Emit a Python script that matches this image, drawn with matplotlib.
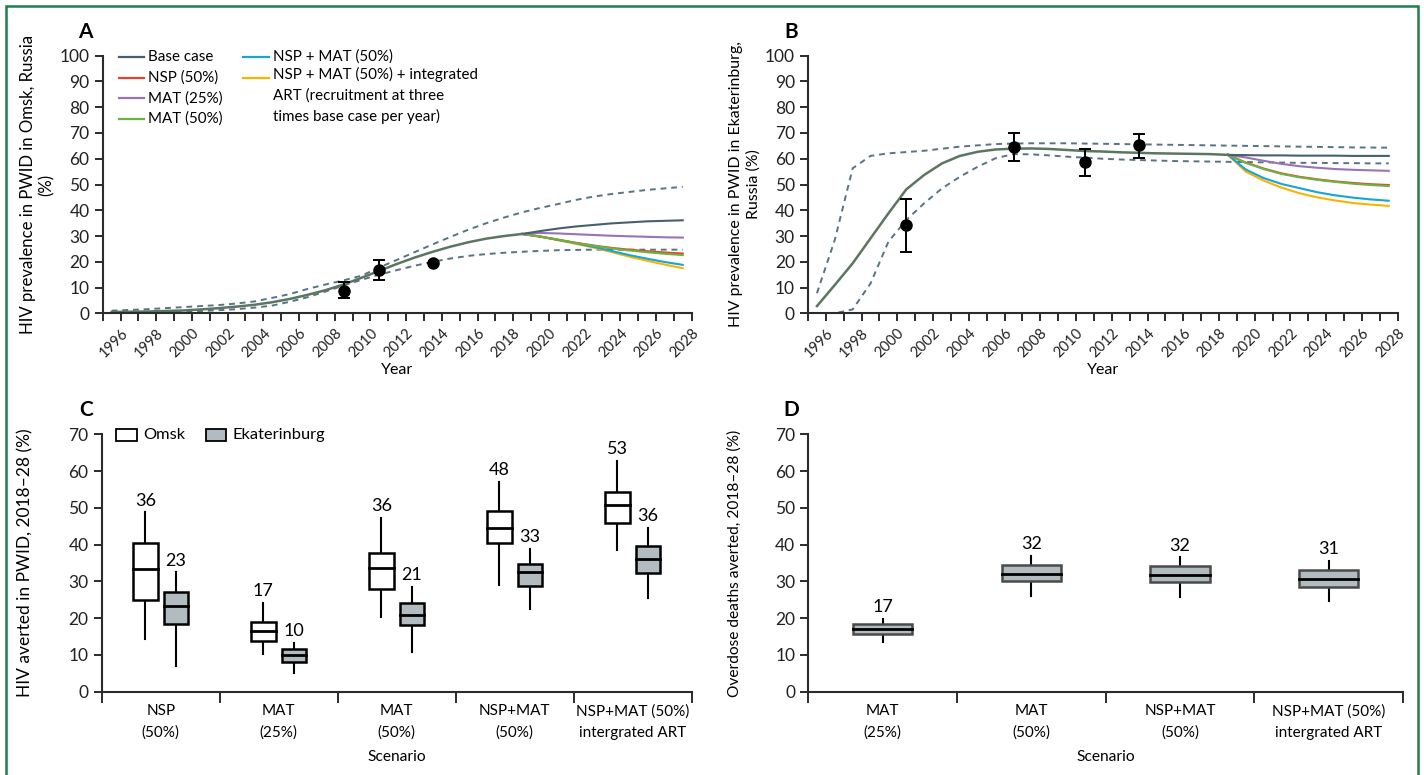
import matplotlib.pyplot as plt
import numpy as np
from matplotlib.lines import Line2D
from matplotlib.patches import Rectangle

plt.rcParams["font.family"] = ["Lato", "DejaVu Sans"]
plt.rcParams["font.size"] = 12

# ---- panel A / B time series (model years on the plotting grid) ----
YEARS = [1995.5, 1996.5, 1997.5, 1998.5, 1999.5, 2000.5, 2001.5, 2002.5,
         2003.5, 2004.5, 2005.5, 2006.5, 2007.5, 2008.5, 2009.5, 2010.5,
         2011.5, 2012.5, 2013.5, 2014.5, 2015.5, 2016.5, 2017.5, 2018.5,
         2019.5, 2020.5, 2021.5, 2022.5, 2023.5, 2024.5, 2025.5, 2026.5,
         2027.5]
SPLIT = 23  # index of 2018.5, where the scenarios start to diverge

# Omsk
omsk_common = [0.5, 0.6, 0.7, 0.9, 1.1, 1.5, 2.0, 2.6, 3.3, 4.3, 5.6, 7.2,
               9.0, 11.2, 13.8, 16.5, 19.2, 21.7, 23.9, 25.9, 27.6, 29.0,
               30.0, 30.8]
omsk_base = [31.9, 32.9, 33.7, 34.3, 34.9, 35.3, 35.7, 35.9, 36.1]
omsk_nsp = [29.8, 28.6, 27.4, 26.3, 25.4, 24.7, 24.1, 23.6, 23.2]
omsk_mat25 = [31.2, 31.0, 30.7, 30.4, 30.1, 29.9, 29.7, 29.5, 29.4]
omsk_mat50 = [29.8, 28.6, 27.3, 26.2, 25.2, 24.4, 23.7, 23.1, 22.6]
omsk_nsp_mat = [29.8, 28.5, 27.2, 25.8, 24.2, 22.6, 21.2, 19.9, 18.8]
omsk_art = [29.8, 28.4, 27.0, 25.5, 23.8, 22.0, 20.4, 18.9, 17.5]
omsk_upper = [1.0, 1.3, 1.6, 2.0, 2.4, 2.8, 3.2, 3.8, 4.6, 6.0, 7.5, 9.5,
              11.2, 12.8, 14.6, 17.8, 20.8, 23.8, 26.8, 29.7, 32.5, 35.0,
              37.2, 39.2, 40.9, 42.4, 44.0, 45.3, 46.3, 47.1, 47.9, 48.5,
              49.1]
omsk_lower = [0.2, 0.3, 0.4, 0.5, 0.7, 0.9, 1.2, 1.6, 2.2, 3.0, 4.5, 6.3,
              8.5, 10.8, 13.0, 15.0, 16.8, 18.5, 20.0, 21.3, 22.3, 23.0,
              23.5, 23.9, 24.2, 24.5, 24.6, 24.7, 24.7, 24.7, 24.7, 24.7,
              24.7]
omsk_obs_year = [2008.5, 2010.5, 2013.5]
omsk_obs = [8.7, 16.7, 19.6]
omsk_obs_lo = [5.8, 12.8, 19.6]
omsk_obs_hi = [12.1, 20.7, 19.6]

# Ekaterinburg
ekat_common = [2.8, 11.0, 19.4, 29.1, 38.8, 48.1, 53.7, 58.2, 61.1, 62.7,
               63.6, 63.9, 64.0, 63.8, 63.4, 63.0, 62.8, 62.5, 62.3, 62.1,
               62.0, 61.9, 61.8, 61.5]
ekat_base = [61.4, 61.3, 61.3, 61.2, 61.2, 61.2, 61.1, 61.1, 61.1]
ekat_nsp = [58.5, 56.2, 54.3, 53.0, 52.0, 51.2, 50.6, 50.1, 49.8]
ekat_mat25 = [60.5, 59.2, 58.0, 57.1, 56.5, 56.0, 55.7, 55.5, 55.3]
ekat_mat50 = [58.4, 56.0, 54.1, 52.8, 51.8, 51.0, 50.3, 49.8, 49.4]
ekat_nsp_mat = [55.8, 52.5, 50.2, 48.6, 47.0, 45.8, 44.9, 44.2, 43.7]
ekat_art = [55.0, 51.5, 48.8, 46.6, 45.0, 43.8, 42.8, 42.2, 41.7]
ekat_upper = [7.8, 28.5, 56.3, 61.1, 62.1, 62.6, 63.1, 63.9, 64.7, 65.2,
              65.7, 65.9, 66.0, 66.0, 66.0, 65.9, 65.8, 65.7, 65.6, 65.5,
              65.4, 65.3, 65.2, 65.1, 65.0, 64.9, 64.8, 64.7, 64.6, 64.5,
              64.4, 64.35, 64.3]
ekat_lower = [0.0, 0.0, 1.5, 11.6, 27.8, 36.2, 42.7, 48.5, 53.0, 56.9,
              60.2, 61.8, 61.7, 61.3, 60.8, 60.4, 60.0, 59.7, 59.5, 59.3,
              59.1, 59.0, 58.9, 58.8, 58.7, 58.6, 58.5, 58.4, 58.4, 58.3,
              58.3, 58.2, 58.2]
ekat_obs_year = [2000.5, 2006.5, 2010.5, 2013.5]
ekat_obs = [34.3, 64.4, 58.7, 65.2]
ekat_obs_lo = [23.7, 59.0, 53.4, 60.2]
ekat_obs_hi = [44.4, 70.0, 63.8, 69.7]

YEAR_TICKS = list(range(1995, 2029))
YEAR_LABELS = [str(y) if y % 2 == 0 else "" for y in YEAR_TICKS]

# ---- panel C: HIV infections averted (box stats) ----
c_scenarios = ["NSP\n(50%)", "MAT\n(25%)", "MAT\n(50%)", "NSP+MAT\n(50%)",
               "NSP+MAT (50%)\nintergrated ART"]
c_omsk_whislo = [14.2, 10.2, 20.4, 29.1, 38.5]
c_omsk_q1 = [24.9, 13.8, 28.0, 40.4, 46.0]
c_omsk_med = [33.5, 16.6, 33.6, 44.6, 50.8]
c_omsk_q3 = [40.5, 18.9, 37.6, 49.2, 54.4]
c_omsk_whishi = [48.8, 24.2, 47.2, 57.1, 62.7]
c_omsk_label = [36, 17, 36, 48, 53]
c_ekat_whislo = [7.0, 5.0, 10.8, 22.6, 25.4]
c_ekat_q1 = [18.5, 8.0, 18.1, 28.8, 32.4]
c_ekat_med = [23.2, 9.9, 20.9, 32.5, 36.1]
c_ekat_q3 = [27.0, 11.6, 24.0, 34.6, 39.7]
c_ekat_whishi = [32.5, 13.2, 28.6, 38.9, 44.6]
c_ekat_label = [23, 10, 21, 33, 36]

# ---- panel D: overdose deaths averted ----
d_scenarios = ["MAT\n(25%)", "MAT\n(50%)", "NSP+MAT\n(50%)",
               "NSP+MAT (50%)\nintergrated ART"]
d_whislo = [13.6, 26.0, 25.8, 24.6]
d_q1 = [15.7, 30.0, 29.7, 28.5]
d_med = [17.0, 32.1, 31.7, 30.6]
d_q3 = [18.4, 34.5, 34.3, 33.0]
d_whishi = [19.8, 36.9, 36.5, 35.5]
d_label = [17, 32, 32, 31]

C_BASE = "#46606d"
C_COMMON = "#5b7660"
C_NSP = "#e8412c"
C_MAT25 = "#9a73b7"
C_MAT50 = "#6cb33f"
C_NSPMAT = "#17a5d6"
C_ART = "#f7b400"
C_GREY = "#b2bbbf"
AX_COL = "#2b2b2b"

W, H = 1424, 775


def px_axes(fig, left, top, right, bottom):
    return fig.add_axes([left / W, 1 - bottom / H, (right - left) / W, (bottom - top) / H])


def style_axis(ax):
    for side in ["top", "right"]:
        ax.spines[side].set_visible(False)
    for side in ["left", "bottom"]:
        ax.spines[side].set_linewidth(1.5)
        ax.spines[side].set_color(AX_COL)
    ax.tick_params(direction="out", length=6, width=1.4, color=AX_COL,
                   labelsize=12.5, labelcolor="#222222")


def draw_prevalence(ax, common, tails, upper, lower, obs_x, obs, lo, hi):
    years = np.array(YEARS)
    head_x = years[:SPLIT + 1]
    tail_x = years[SPLIT:]
    ax.plot(years, upper, "--", color="#587381", lw=1.4, dashes=(3, 2.5))
    ax.plot(years, lower, "--", color="#587381", lw=1.4, dashes=(3, 2.5))
    base_tail, nsp, mat25, mat50, nspmat, art = tails
    start = common[-1]
    ax.plot(tail_x, [start] + art, color=C_ART, lw=1.5)
    ax.plot(tail_x, [start] + nspmat, color=C_NSPMAT, lw=1.5)
    ax.plot(tail_x, [start] + nsp, color=C_NSP, lw=1.5)
    ax.plot(tail_x, [start] + mat50, color=C_MAT50, lw=1.5)
    ax.plot(tail_x, [start] + mat25, color=C_MAT25, lw=1.5)
    ax.plot(tail_x, [start] + base_tail, color=C_BASE, lw=1.5)
    ax.plot(head_x, common, color=C_COMMON, lw=1.8)
    lo_err = np.array(obs) - np.array(lo)
    hi_err = np.array(hi) - np.array(obs)
    ax.errorbar(obs_x, obs, yerr=[lo_err, hi_err], fmt="o", color="black",
                ms=8, capsize=4, elinewidth=1.4, capthick=1.4, zorder=5)
    ax.set_xlim(1995, 2028)
    ax.set_ylim(0, 100)
    ax.set_yticks(range(0, 101, 10))
    ax.set_xticks(YEAR_TICKS)
    ax.set_xticklabels(YEAR_LABELS, rotation=45, ha="right", rotation_mode="anchor")
    style_axis(ax)
    ax.tick_params(axis="x", labelsize=10.6, pad=3)
    ax.set_xlabel("Year", fontsize=11.5)
    ax.xaxis.set_label_coords(0.5, -0.22)
    ax.xaxis.label.set_va("center")


def draw_box(ax, x, width, lo, q1, med, q3, hi, face, edge):
    ax.add_patch(Rectangle((x - width / 2, q1), width, q3 - q1, facecolor=face,
                           edgecolor=edge, lw=1.8, zorder=3))
    ax.plot([x - width / 2, x + width / 2], [med, med], color="black", lw=2.0, zorder=4)
    ax.plot([x, x], [q3, hi], color="black", lw=1.5, zorder=2)
    ax.plot([x, x], [lo, q1], color="black", lw=1.5, zorder=2)


def style_boxes(ax, labels):
    n = len(labels)
    ax.set_xlim(0, n)
    ax.set_ylim(0, 70)
    ax.set_yticks(range(0, 71, 10))
    ax.set_xticks(range(n + 1))
    ax.set_xticklabels([""] * (n + 1))
    ax.set_xticks(np.arange(n) + 0.5, minor=True)
    ax.set_xticklabels(labels, minor=True, fontsize=11, linespacing=1.65)
    style_axis(ax)
    ax.tick_params(axis="x", length=8)
    ax.tick_params(axis="x", which="minor", length=0, pad=9)
    ax.set_xlabel("Scenario", fontsize=11.2)
    ax.xaxis.set_label_coords(0.5, -0.253)
    ax.xaxis.label.set_va("center")


fig = plt.figure(figsize=(W / 100, H / 100), dpi=100)

# Panel A
ax_a = px_axes(fig, 102.7, 55.7, 691.7, 313.3)
draw_prevalence(ax_a, omsk_common,
                [omsk_base, omsk_nsp, omsk_mat25, omsk_mat50, omsk_nsp_mat, omsk_art],
                omsk_upper, omsk_lower, omsk_obs_year, omsk_obs, omsk_obs_lo, omsk_obs_hi)
ax_a.set_ylabel("HIV prevalence in PWID in Omsk, Russia\n(%)", fontsize=12.1,
                linespacing=1.25)
ax_a.yaxis.set_label_coords(-0.081, 0.5)

legend_rows = [
    (0.027, 0.995, C_BASE, "Base case"),
    (0.027, 0.915, C_NSP, "NSP (50%)"),
    (0.027, 0.835, C_MAT25, "MAT (25%)"),
    (0.027, 0.755, C_MAT50, "MAT (50%)"),
    (0.239, 0.995, C_NSPMAT, "NSP + MAT (50%)"),
    (0.239, 0.915, C_ART, "NSP + MAT (50%) + integrated\nART (recruitment at three\ntimes base case per year)"),
]
for lx, ly, col, text in legend_rows:
    ax_a.add_line(Line2D([lx, lx + 0.043], [ly, ly], transform=ax_a.transAxes,
                         color=col, lw=1.6, clip_on=False))
    multi = "\n" in text
    ax_a.text(lx + 0.050, ly + 0.04 if multi else ly, text, transform=ax_a.transAxes,
              va="top" if multi else "center", ha="left", fontsize=10.9,
              linespacing=1.52)

# Panel B
ax_b = px_axes(fig, 808.0, 55.7, 1397.7, 313.3)
draw_prevalence(ax_b, ekat_common,
                [ekat_base, ekat_nsp, ekat_mat25, ekat_mat50, ekat_nsp_mat, ekat_art],
                ekat_upper, ekat_lower, ekat_obs_year, ekat_obs, ekat_obs_lo, ekat_obs_hi)
ax_b.set_ylabel("HIV prevalence in PWID in Ekaterinburg,\nRussia (%)", fontsize=11.4,
                linespacing=1.25)
ax_b.yaxis.set_label_coords(-0.081, 0.5)

# Panel C
ax_c = px_axes(fig, 101.7, 434.3, 691.7, 691.7)
box_w = 0.21
for i in range(len(c_scenarios)):
    xo = i + 0.5 - 0.13
    xe = i + 0.5 + 0.13
    draw_box(ax_c, xo, box_w, c_omsk_whislo[i], c_omsk_q1[i], c_omsk_med[i],
             c_omsk_q3[i], c_omsk_whishi[i], "white", "black")
    draw_box(ax_c, xe, box_w, c_ekat_whislo[i], c_ekat_q1[i], c_ekat_med[i],
             c_ekat_q3[i], c_ekat_whishi[i], C_GREY, "black")
    ax_c.text(xo, c_omsk_whishi[i] + 1.0, str(c_omsk_label[i]), ha="center",
              va="bottom", fontsize=13)
    ax_c.text(xe, c_ekat_whishi[i] + 1.0, str(c_ekat_label[i]), ha="center",
              va="bottom", fontsize=13)
style_boxes(ax_c, c_scenarios)
ax_c.set_ylabel("HIV averted in PWID, 2018–28 (%)", fontsize=12.5)
ax_c.yaxis.set_label_coords(-0.116, 0.5)
for bx, face, text in [(0.025, "white", "Omsk"), (0.177, C_GREY, "Ekaterinburg")]:
    ax_c.add_patch(Rectangle((bx, 0.975), 0.034, 0.045, transform=ax_c.transAxes,
                             facecolor=face, edgecolor="black", lw=1.3, clip_on=False))
    ax_c.text(bx + 0.045, 0.998, text, transform=ax_c.transAxes, ha="left",
              va="center", fontsize=11.8)

# Panel D
ax_d = px_axes(fig, 808.4, 434.3, 1403.0, 691.7)
for i in range(len(d_scenarios)):
    x = i + 0.5
    draw_box(ax_d, x, 0.4, d_whislo[i], d_q1[i], d_med[i], d_q3[i], d_whishi[i],
             C_GREY, "#4a4a4a")
    ax_d.text(x, d_whishi[i] + 1.0, str(d_label[i]), ha="center", va="bottom",
              fontsize=13)
style_boxes(ax_d, d_scenarios)
ax_d.set_ylabel("Overdose deaths averted, 2018–28 (%)", fontsize=11.2)
ax_d.yaxis.set_label_coords(-0.112, 0.5)

# Panel letters
for px, py, letter in [(85, 32, "A"), (791, 32, "B"), (86, 410, "C"), (791, 410, "D")]:
    fig.text(px / W, 1 - py / H, letter, fontsize=15, fontweight="bold",
             ha="center", va="center")

# green frame
fig.add_artist(Rectangle((5.5 / W, -0.05), (1418.3 - 5.5) / W, 1 - 5.5 / H + 0.05,
                         transform=fig.transFigure, fill=False,
                         edgecolor="#1d7f4e", lw=1.8))

fig.savefig("out.png", dpi=100)
